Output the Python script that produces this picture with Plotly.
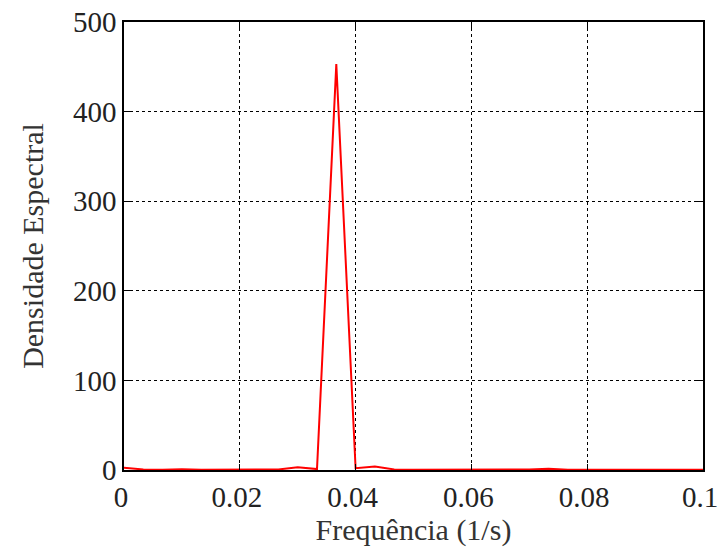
import plotly.graph_objects as go

# Spectral density sampled at multiples of 1/300 Hz
freq = [i / 300 for i in range(31)]
density = [2.5, 0.6, 0.3, 0.8, 0.4, 0.3, 0.4, 0.5, 0.6, 3.0, 1.0, 453.0, 2.0, 4.0, 0.6,
           0.4, 0.3, 0.4, 0.3, 0.3, 0.4, 0.5, 1.5, 0.4, 0.3, 0.3, 0.4, 0.3, 0.3, 0.3, 0.3]

x_ticks = [0, 0.02, 0.04, 0.06, 0.08, 0.1]
x_labels = ["0", "0.02", "0.04", "0.06", "0.08", "0.1"]
y_ticks = [0, 100, 200, 300, 400, 500]

font = "Liberation Serif"

fig = go.Figure()
fig.add_trace(go.Scatter(x=freq, y=density, mode="lines",
                         line=dict(color="#ff0000", width=2)))

axis_common = dict(
    showline=True, linecolor="black", linewidth=1.5, mirror="allticks",
    ticks="inside", ticklen=6, tickwidth=1, tickcolor="black",
    showgrid=True, gridcolor="black", gridwidth=1, griddash="dot",
    zeroline=False, automargin=False, ticklabeloverflow="allow",
    tickfont=dict(family=font, size=29, color="#222"),
)

fig.update_xaxes(range=[0, 0.1], tickvals=x_ticks, ticktext=x_labels, ticklabelshift=-3,
                 title=dict(text="Frequência (1/s)", font=dict(family=font, size=30, color="#333"),
                            standoff=6),
                 **axis_common)
fig.update_yaxes(range=[0, 500], tickvals=y_ticks,
                 title=dict(text="Densidade Espectral", font=dict(family=font, size=30, color="#333"),
                            standoff=20),
                 **axis_common)

fig.update_layout(
    width=719, height=549,
    margin=dict(l=124, r=16, t=22, b=79),
    paper_bgcolor="white", plot_bgcolor="white",
    showlegend=False,
)

fig.write_html("out.html")
